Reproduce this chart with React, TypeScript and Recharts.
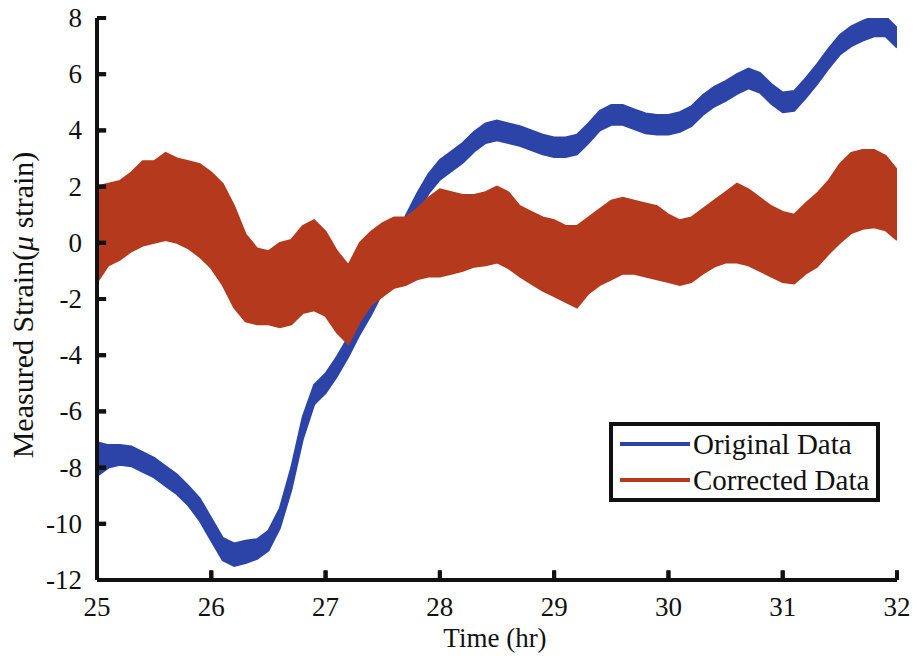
import React from "react";
import { ComposedChart, Area, XAxis, YAxis, ReferenceLine } from "recharts";

// time samples (hr)
const times = [
  25.0, 25.1, 25.2, 25.3, 25.4, 25.5, 25.6, 25.7, 25.8, 25.9,
  26.0, 26.1, 26.2, 26.3, 26.4, 26.5, 26.6, 26.7, 26.8, 26.9,
  27.0, 27.1, 27.2, 27.3, 27.4, 27.5, 27.6, 27.7, 27.8, 27.9,
  28.0, 28.1, 28.2, 28.3, 28.4, 28.5, 28.6, 28.7, 28.8, 28.9,
  29.0, 29.1, 29.2, 29.3, 29.4, 29.5, 29.6, 29.7, 29.8, 29.9,
  30.0, 30.1, 30.2, 30.3, 30.4, 30.5, 30.6, 30.7, 30.8, 30.9,
  31.0, 31.1, 31.2, 31.3, 31.4, 31.5, 31.6, 31.7, 31.8, 31.9,
  32.0,
];

// original data, lower / upper edge of the noisy trace
const originalLow = [
  -8.3, -8.0, -7.9, -7.95, -8.15, -8.35, -8.65, -8.95, -9.35, -9.9,
  -10.6, -11.3, -11.5, -11.4, -11.25, -10.95, -10.15, -8.8, -7.0, -5.75,
  -5.35, -4.75, -4.05, -3.25, -2.55, -1.75, -0.85, 0.25, 1.05, 1.75,
  2.25, 2.55, 2.85, 3.25, 3.55, 3.65, 3.55, 3.45, 3.3, 3.15,
  3.05, 3.05, 3.15, 3.55, 4.0, 4.2, 4.2, 4.05, 3.9, 3.85,
  3.85, 3.95, 4.15, 4.55, 4.85, 5.05, 5.3, 5.5, 5.35, 4.95,
  4.65, 4.7, 5.15, 5.65, 6.2, 6.7, 7.0, 7.2, 7.35, 7.35,
  6.95,
];
const originalHigh = [
  -7.1, -7.2, -7.2, -7.25, -7.45, -7.65, -7.95, -8.25, -8.65, -9.1,
  -9.8, -10.5, -10.7, -10.6, -10.55, -10.25, -9.45, -8.0, -6.2, -5.05,
  -4.65, -4.05, -3.35, -2.55, -1.85, -1.05, -0.15, 0.95, 1.75, 2.45,
  2.95, 3.25, 3.55, 3.95, 4.25, 4.35, 4.25, 4.15, 4.0, 3.85,
  3.75, 3.75, 3.85, 4.25, 4.7, 4.9, 4.9, 4.75, 4.6, 4.55,
  4.55, 4.65, 4.85, 5.25, 5.55, 5.75, 6.0, 6.2, 6.05, 5.65,
  5.35, 5.4, 5.85, 6.35, 6.9, 7.4, 7.7, 7.9, 8.05, 8.05,
  7.65,
];

// corrected data, lower / upper edge of the noisy trace
const correctedLow = [
  -1.4, -0.8, -0.6, -0.3, -0.1, 0.0, 0.1, 0.0, -0.2, -0.5,
  -0.9, -1.5, -2.3, -2.8, -2.9, -2.9, -3.0, -2.9, -2.5, -2.4,
  -2.6, -3.2, -3.6, -2.8, -2.2, -1.9, -1.6, -1.5, -1.3, -1.2,
  -1.2, -1.1, -1.0, -0.85, -0.8, -0.7, -0.9, -1.2, -1.45, -1.7,
  -1.9, -2.1, -2.3, -1.8, -1.5, -1.3, -1.1, -1.1, -1.2, -1.3,
  -1.4, -1.5, -1.4, -1.1, -0.85, -0.7, -0.7, -0.8, -1.0, -1.2,
  -1.4, -1.45, -1.1, -0.85, -0.4, 0.0, 0.35, 0.5, 0.55, 0.45,
  0.1,
];
const correctedHigh = [
  2.0, 2.1, 2.2, 2.5, 2.9, 2.9, 3.2, 3.0, 2.9, 2.8,
  2.5, 2.1, 1.3, 0.3, -0.2, -0.3, 0.0, 0.1, 0.6, 0.8,
  0.4, -0.3, -0.8, 0.0, 0.4, 0.7, 0.9, 0.9, 1.2, 1.6,
  1.9, 1.8, 1.7, 1.7, 1.8, 2.0, 1.8, 1.3, 1.1, 0.9,
  0.8, 0.6, 0.6, 0.9, 1.2, 1.5, 1.6, 1.5, 1.4, 1.3,
  1.0, 0.8, 0.9, 1.2, 1.5, 1.8, 2.1, 1.9, 1.6, 1.3,
  1.1, 1.0, 1.4, 1.75, 2.2, 2.8, 3.2, 3.3, 3.3, 3.1,
  2.6,
];

const xTicks = [25, 26, 27, 28, 29, 30, 31, 32];
const yTicks = [-12, -10, -8, -6, -4, -2, 0, 2, 4, 6, 8];

const BLUE = "#2C44A8";
const RED = "#B53A1D";
const FONT = "'Liberation Serif', 'Times New Roman', Times, serif";
const INK = "#111";

// inward tick mark length, in axis units
const X_TICK_LEN = 0.35; // strain units
const Y_TICK_LEN = 0.08; // hours

const rows = times.map((t, i) => ({
  t,
  original: [originalLow[i], originalHigh[i]],
  corrected: [correctedLow[i], correctedHigh[i]],
}));

// tick label plus a short inward mark from the axis line
const XTick = (props: any) => {
  const axisY = props.y - 19;
  return (
    <g>
      <path d={`M${props.x},${axisY} V${axisY - 9}`} stroke={INK} strokeWidth={4} fill="none" />
      <text x={props.x} y={props.y + 17} textAnchor="middle" fontFamily={FONT} fontSize={27} fill={INK}>
        {props.payload.value}
      </text>
    </g>
  );
};

const YTick = (props: any) => {
  const axisX = props.x + 15;
  return (
    <g>
      <path d={`M${axisX},${props.y} H${axisX + 9}`} stroke={INK} strokeWidth={4} fill="none" />
      <text x={props.x} y={props.y + 9} textAnchor="end" fontFamily={FONT} fontSize={27} fill={INK}>
        {props.payload.value}
      </text>
    </g>
  );
};

const YLabel = (props: any) => {
  const vb = props.viewBox || {};
  const cy = (vb.y ?? 18) + (vb.height ?? 562) / 2 + 6;
  return (
    <text
      x={33}
      y={cy}
      transform={`rotate(-90, 33, ${cy})`}
      textAnchor="middle"
      fontFamily={FONT}
      fontSize={30}
      fill={INK}
    >
      Measured Strain(<tspan fontStyle="italic">μ</tspan> strain)
    </text>
  );
};

const XLabel = () => (
  <text x={495} y={647} textAnchor="middle" fontFamily={FONT} fontSize={27} fill={INK}>
    Time (hr)
  </text>
);

export default function App() {
  return (
    <div style={{ position: "absolute", left: 0, top: 0, width: 917, height: 662, background: "#fff" }}>
      <ComposedChart
        width={917}
        height={662}
        data={rows}
        margin={{ top: 18, right: 20, bottom: 32, left: 0 }}
      >
        <XAxis
          dataKey="t"
          type="number"
          domain={[25, 32]}
          ticks={xTicks}
          allowDataOverflow
          height={50}
          axisLine={{ stroke: INK, strokeWidth: 4 }}
          tickLine={false}
          tickSize={0}
          tickMargin={19}
          tick={XTick}
          label={{ content: XLabel }}
        />
        <YAxis
          type="number"
          domain={[-12, 8]}
          ticks={yTicks}
          allowDataOverflow
          width={97}
          axisLine={{ stroke: INK, strokeWidth: 4 }}
          tickLine={false}
          tickSize={0}
          tickMargin={15}
          tick={YTick}
          label={{ content: YLabel }}
        />
        {yTicks.map((v) => (
          <ReferenceLine
            key={`yt-${v}`}
            segment={[{ x: 25, y: v }, { x: 25 + Y_TICK_LEN, y: v }]}
            stroke={INK}
            strokeWidth={4}
            ifOverflow="visible"
          />
        ))}
        {xTicks.map((v) => (
          <ReferenceLine
            key={`xt-${v}`}
            segment={[{ x: v, y: -12 }, { x: v, y: -12 + X_TICK_LEN }]}
            stroke={INK}
            strokeWidth={4}
            ifOverflow="visible"
          />
        ))}
        <Area
          dataKey="original"
          type="linear"
          stroke={BLUE}
          strokeWidth={2}
          fill={BLUE}
          fillOpacity={1}
          isAnimationActive={false}
          dot={false}
          activeDot={false}
        />
        <Area
          dataKey="corrected"
          type="linear"
          stroke={RED}
          strokeWidth={2}
          fill={RED}
          fillOpacity={1}
          isAnimationActive={false}
          dot={false}
          activeDot={false}
        />
      </ComposedChart>
      <div
        style={{
          position: "absolute",
          left: 609,
          top: 422,
          width: 263,
          height: 72,
          border: "4px solid " + INK,
          background: "#fff",
          fontFamily: FONT,
          fontSize: 29,
          color: INK,
          boxSizing: "content-box",
        }}
      >
        {[
          { name: "Original Data", color: BLUE },
          { name: "Corrected Data", color: RED },
        ].map((item) => (
          <div
            key={item.name}
            style={{ display: "flex", alignItems: "center", height: 36, paddingLeft: 7, whiteSpace: "nowrap", lineHeight: "36px" }}
          >
            <span style={{ display: "inline-block", width: 70, height: 4, background: item.color, marginRight: 3 }} />
            <span>{item.name}</span>
          </div>
        ))}
      </div>
    </div>
  );
}
